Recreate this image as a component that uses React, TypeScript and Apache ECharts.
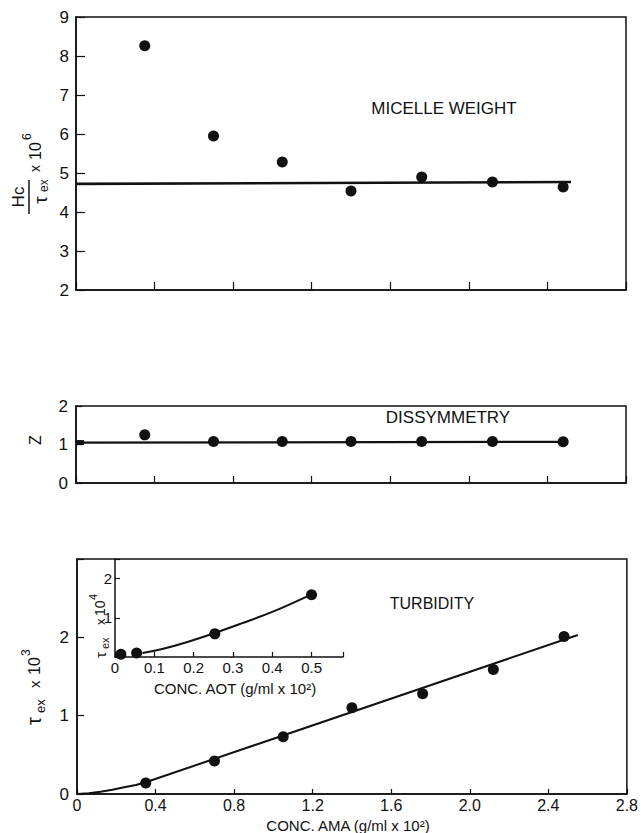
import React, { useEffect, useRef } from "react";
import * as echarts from "echarts";

// ---- Data ----
const concAMA = [0.35, 0.7, 1.05, 1.4, 1.76, 2.12, 2.48];
const micelleWeight = [8.26, 5.95, 5.28, 4.54, 4.9, 4.77, 4.64];
const micelleFitX = [0, 2.52];
const micelleFitY = [4.72, 4.77];

const dissymmetry = [1.25, 1.08, 1.08, 1.08, 1.08, 1.08, 1.07];
const dissFitX = [0, 2.48];
const dissFitY = [1.05, 1.07];
const dissZeroX = [0.02];
const dissZeroY = [1.05];

const turbidity = [0.14, 0.42, 0.73, 1.1, 1.28, 1.59, 2.01];
const turbFitX = [0, 0.06, 0.12, 0.18, 0.24, 0.3, 0.35, 2.55];
const turbFitY = [0, 0.01, 0.03, 0.055, 0.085, 0.115, 0.15, 2.03];

const concAOT = [0.015, 0.055, 0.254, 0.5];
const turbAOT = [0.07, 0.1, 0.59, 1.59];
const aotFitX = [0.07, 0.13, 0.18, 0.25, 0.32, 0.4, 0.5];
const aotFitY = [0.1, 0.23, 0.37, 0.6, 0.85, 1.15, 1.6];

const mainXTicks = ["0", "0.4", "0.8", "1.2", "1.6", "2.0", "2.4", "2.8"];
const insetXTicks = ["0", "0.1", "0.2", "0.3", "0.4", "0.5"];

const FONT = '"Liberation Sans", Arial, sans-serif';
const INK = "#111";

const zip = (xs: number[], ys: number[]) => xs.map((x, i) => [x, ys[i]]);

export default function App() {
  const ref = useRef<HTMLDivElement>(null);
  useEffect(() => {
    if (!ref.current) return;
    const chart = echarts.init(ref.current, null, { renderer: "svg" });

    const axisLine = { show: true, lineStyle: { color: INK, width: 1.5 } };
    const label = (size: number, margin: number, formatter?: any) => ({
      show: true,
      color: INK,
      fontSize: size,
      fontFamily: FONT,
      margin,
      formatter,
    });
    const tick = (len: number) => ({
      show: true,
      inside: true,
      length: len,
      lineStyle: { color: INK, width: 1.2 },
    });

    const mainXFmt = (v: number) => {
      const i = Math.round(v / 0.4);
      return Math.abs(i * 0.4 - v) < 1e-6 ? mainXTicks[i] ?? "" : "";
    };
    const insetXFmt = (v: number) => {
      const i = Math.round(v / 0.1);
      return Math.abs(i * 0.1 - v) < 1e-6 ? insetXTicks[i] ?? "" : "";
    };

    const txt = (x: number, y: number, text: string, size: number, extra: any = {}) => ({
      type: "text",
      x,
      y,
      style: {
        text,
        fill: INK,
        font: `${size}px ${FONT}`,
        textAlign: extra.align ?? "left",
        textVerticalAlign: extra.valign ?? "middle",
      },
    });

    const dot = { color: INK, opacity: 1 };

    const option: any = {
      animation: false,
      backgroundColor: "#fff",
      grid: [
        { left: 76, top: 17, width: 550, height: 273, show: true, borderColor: INK, borderWidth: 1.5, backgroundColor: "transparent" },
        { left: 76, top: 406, width: 550, height: 77, show: true, borderColor: INK, borderWidth: 1.5, backgroundColor: "transparent" },
        { left: 77, top: 559, width: 550, height: 235, show: true, borderColor: INK, borderWidth: 1.5, backgroundColor: "transparent" },
        { left: 115, top: 559, width: 228, height: 98, show: false },
      ],
      xAxis: [
        { type: "value", gridIndex: 0, min: 0, max: 2.8, interval: 0.4, axisLine, axisTick: tick(8), axisLabel: { show: false }, splitLine: { show: false } },
        { type: "value", gridIndex: 1, min: 0, max: 2.8, interval: 0.4, axisLine, axisTick: tick(7), axisLabel: { show: false }, splitLine: { show: false } },
        { type: "value", gridIndex: 2, min: 0, max: 2.8, interval: 0.4, axisLine, axisTick: tick(5), axisLabel: label(16, 3, mainXFmt), splitLine: { show: false } },
        { type: "value", gridIndex: 3, min: 0, max: 0.58, interval: 0.1, axisLine, axisTick: tick(5), axisLabel: label(15, 3, insetXFmt), splitLine: { show: false } },
      ],
      yAxis: [
        { type: "value", gridIndex: 0, min: 2, max: 9, interval: 1, axisLine, axisTick: tick(9), axisLabel: label(17, 7), splitLine: { show: false } },
        { type: "value", gridIndex: 1, min: 0, max: 2, interval: 1, axisLine, axisTick: tick(6), axisLabel: label(17, 8), splitLine: { show: false } },
        { type: "value", gridIndex: 2, min: 0, max: 3, interval: 1, axisLine, axisTick: tick(7), axisLabel: label(17, 8, (v: number) => (v < 2.5 ? String(v) : "")), splitLine: { show: false } },
        { type: "value", gridIndex: 3, min: 0, max: 2.5, interval: 1, axisLine, axisTick: tick(5), axisLabel: label(15, 3, (v: number) => (v === 1 || v === 2 ? String(v) : "")), splitLine: { show: false } },
      ],
      series: [
        { type: "scatter", xAxisIndex: 0, yAxisIndex: 0, data: zip(concAMA, micelleWeight), symbolSize: 11, itemStyle: dot, z: 5 },
        { type: "line", xAxisIndex: 0, yAxisIndex: 0, data: zip(micelleFitX, micelleFitY), showSymbol: false, lineStyle: { color: INK, width: 2.6 } },
        { type: "scatter", xAxisIndex: 1, yAxisIndex: 1, data: zip(concAMA, dissymmetry), symbolSize: 11, itemStyle: dot, z: 5 },
        { type: "line", xAxisIndex: 1, yAxisIndex: 1, data: zip(dissFitX, dissFitY), showSymbol: false, lineStyle: { color: INK, width: 2.2 } },
        { type: "scatter", xAxisIndex: 1, yAxisIndex: 1, data: zip(dissZeroX, dissZeroY), symbol: "rect", symbolSize: [8, 5], itemStyle: dot, z: 5 },
        { type: "scatter", xAxisIndex: 2, yAxisIndex: 2, data: zip(concAMA, turbidity), symbolSize: 11, itemStyle: dot, z: 5 },
        { type: "line", xAxisIndex: 2, yAxisIndex: 2, data: zip(turbFitX, turbFitY), showSymbol: false, lineStyle: { color: INK, width: 2 } },
        { type: "scatter", xAxisIndex: 3, yAxisIndex: 3, data: zip(concAOT, turbAOT), symbolSize: 11, itemStyle: dot, z: 5 },
        { type: "line", xAxisIndex: 3, yAxisIndex: 3, data: zip(aotFitX, aotFitY), smooth: 0.4, showSymbol: false, lineStyle: { color: INK, width: 2 } },
      ],
      graphic: [
        txt(444, 108, "MICELLE WEIGHT", 17, { align: "center" }),
        txt(448, 417, "DISSYMMETRY", 17, { align: "center" }),
        txt(432, 603, "TURBIDITY", 16, { align: "center" }),
        txt(235, 688, "CONC. AOT (g/ml x 10²)", 15, { align: "center" }),
        txt(348, 825, "CONC. AMA (g/ml x 10²)", 15, { align: "center" }),
        {
          type: "group",
          x: 35,
          y: 440,
          rotation: Math.PI / 2,
          children: [txt(0, 0, "Z", 16, { align: "center" })],
        },
        {
          type: "group",
          x: 29,
          y: 197,
          rotation: Math.PI / 2,
          children: [
            txt(0, -2, "Hc", 17, { align: "center", valign: "bottom" }),
            { type: "line", shape: { x1: -17, y1: 0, x2: 17, y2: 0 }, style: { stroke: INK, lineWidth: 1.5 } },
            txt(-3, 2, "τ", 19, { align: "center", valign: "top" }),
            txt(5, 9, "ex", 12, { align: "left", valign: "top" }),
            txt(25, 6, "x", 14),
            txt(37, 6, "10", 16),
            txt(57, -2, "6", 12),
          ],
        },
        {
          type: "group",
          x: 34,
          y: 725,
          rotation: Math.PI / 2,
          children: [
            txt(0, 0, "τ", 20),
            txt(12, 6, "ex", 13),
            txt(37, 0, "x", 15),
            txt(50, 0, "10", 16),
            txt(69, -8, "3", 12),
          ],
        },
        {
          type: "group",
          x: 100,
          y: 658,
          rotation: Math.PI / 2,
          children: [
            txt(0, 0, "τ", 15),
            txt(9, 5, "ex", 11),
            txt(33, 0, "x", 13),
            txt(42, 0, "10", 14),
            txt(58, -7, "4", 11),
          ],
        },
      ],
    };

    chart.setOption(option);
    return () => chart.dispose();
  }, []);

  return (
    <div
      ref={ref}
      style={{ position: "absolute", left: 0, top: 0, width: 641, height: 833, background: "#fff" }}
    />
  );
}
